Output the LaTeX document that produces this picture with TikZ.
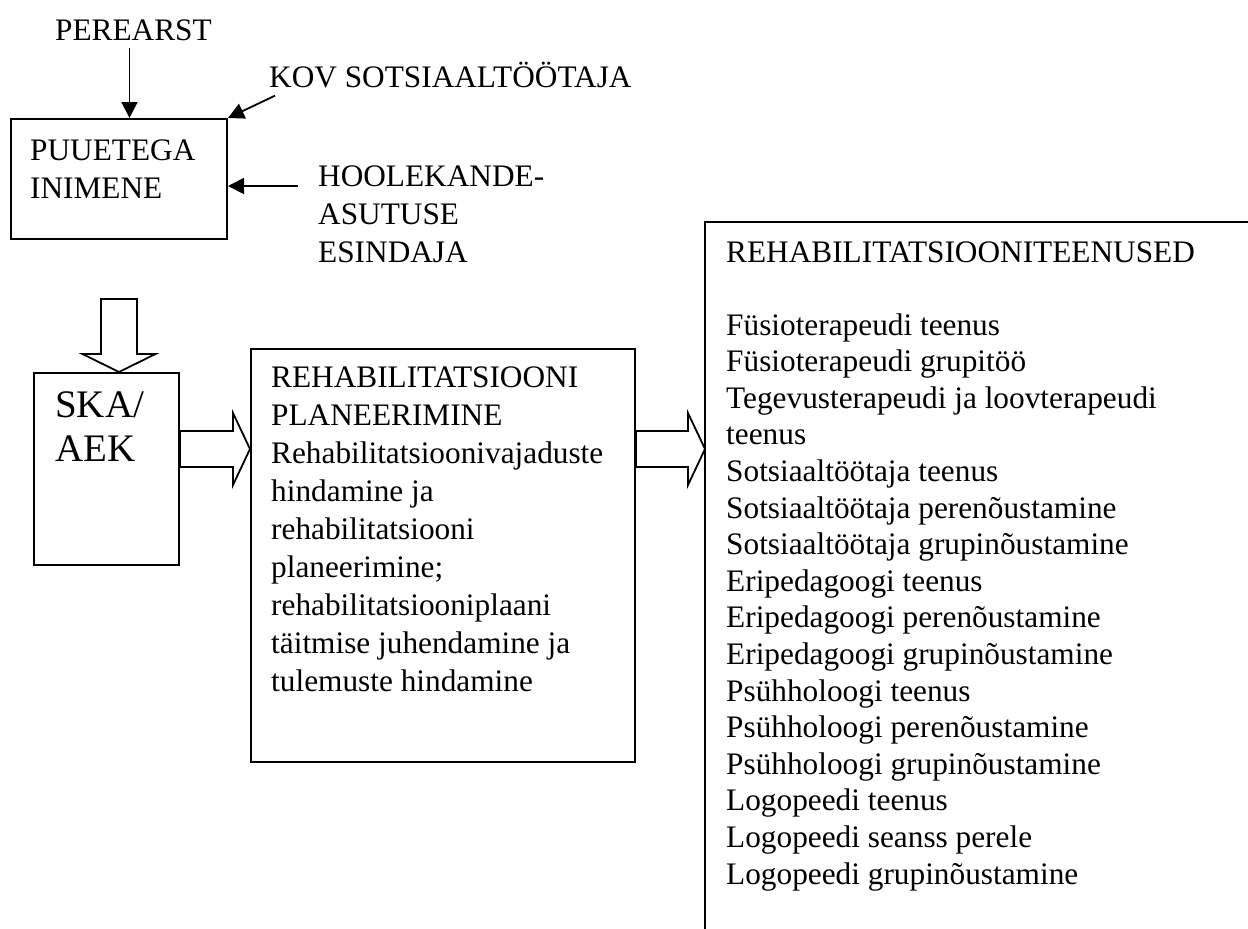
\documentclass[tikz,border=0pt]{standalone}
\usepackage{fontspec}
\setmainfont{Liberation Serif}
\usetikzlibrary{calc}
\usetikzlibrary{arrows.meta}

% wide hollow arrow, from a start point to its tip (pointing right)
\newcommand{\hollowarrow}[2]{%
  \draw[hollow] ($(#1)+(0,-18)$) -- ($(#2)+(-17,-18)$) -- ++(0,-18) -- (#2)
    -- ++(-17,36) -- ++(0,-18) -- ($(#1)+(0,18)$) -- cycle;}

\begin{document}
\begin{tikzpicture}[x=1pt,y=-1pt,
  box/.style={draw,line width=2pt,inner sep=0pt,anchor=north west},
  lbl/.style={inner sep=0pt,anchor=base west,align=left,
    font=\fontsize{31.3}{38}\selectfont},
  thinarrow/.style={line width=1.8pt,-{Triangle[length=16pt,width=16pt]}},
  hollow/.style={draw,line width=1.8pt,line join=miter}]
  \useasboundingbox (0,0) rectangle (1248,929);

  % boxes
  \node[box,minimum width=216,minimum height=120] (puuetega) at (10,118) {};
  \node[box,minimum width=145,minimum height=192] (ska) at (33,372) {};
  \node[box,minimum width=384,minimum height=413] (plan) at (250,348) {};
  \coordinate (svc) at (705,222);
  \draw[line width=2pt] (1248,222) -- (svc) -- (705,929);

  % texts (multi-line nodes sit on the baseline of their last line)
  \node[lbl] (perearst) at (55,40) {PEREARST};
  \node[lbl] (kov) at (269,87) {KOV SOTSIAALTÖÖTAJA};
  \node[lbl] (hool) at (318,262) {HOOLEKANDE-\\ASUTUSE\\ESINDAJA};
  \node[lbl] (puuetegatxt) at (30,198) {PUUETEGA\\INIMENE};
  \node[lbl,font=\fontsize{39}{44}\selectfont] (skatxt) at (55,461) {SKA/\\AEK};
  \node[lbl] (plantxt) at (271,691) {REHABILITATSIOONI\\PLANEERIMINE\\
    Rehabilitatsioonivajaduste\\hindamine ja\\rehabilitatsiooni\\planeerimine;\\
    rehabilitatsiooniplaani\\täitmise juhendamine ja\\tulemuste hindamine};
  \node[lbl] (svctitle) at (726,262) {REHABILITATSIOONITEENUSED};
  \node[lbl,font=\fontsize{31.3}{36.6}\selectfont] (svclist) at (726,884)
    {Füsioterapeudi teenus\\Füsioterapeudi grupitöö\\
     Tegevusterapeudi ja loovterapeudi\\teenus\\
     Sotsiaaltöötaja teenus\\Sotsiaaltöötaja perenõustamine\\
     Sotsiaaltöötaja grupinõustamine\\Eripedagoogi teenus\\
     Eripedagoogi perenõustamine\\Eripedagoogi grupinõustamine\\
     Psühholoogi teenus\\Psühholoogi perenõustamine\\
     Psühholoogi grupinõustamine\\Logopeedi teenus\\
     Logopeedi seanss perele\\Logopeedi grupinõustamine};

  % thin arrows into the person box
  \coordinate (perend) at ($(perearst.south)+(-4,7)$);
  \draw[thinarrow] (perend) -- (perend |- puuetega.north);
  \draw[thinarrow] ($(kov.south west)+(6,8)$) -- (puuetega.north east);
  \coordinate (hoolend) at (298,186);
  \draw[thinarrow] (hoolend) -- (hoolend -| puuetega.east);

  % wide arrows
  \coordinate (a0) at ($(ska.north)+(12.5,0)$);
  \draw[hollow] (a0) -- ++(-36.5,-18) -- ++(18.5,0) -- ++(0,-55) -- ++(36,0)
    -- ++(0,55) -- ++(18.5,0) -- cycle;
  \coordinate (a1) at ($(ska.east)+(0,-20)$);
  \coordinate (a1t) at (a1 -| plan.west);
  \hollowarrow{a1}{a1t}
  \coordinate (a2) at (plan.east |- a1);
  \coordinate (a2t) at (svc |- a1);
  \hollowarrow{a2}{a2t}
\end{tikzpicture}
\end{document}
